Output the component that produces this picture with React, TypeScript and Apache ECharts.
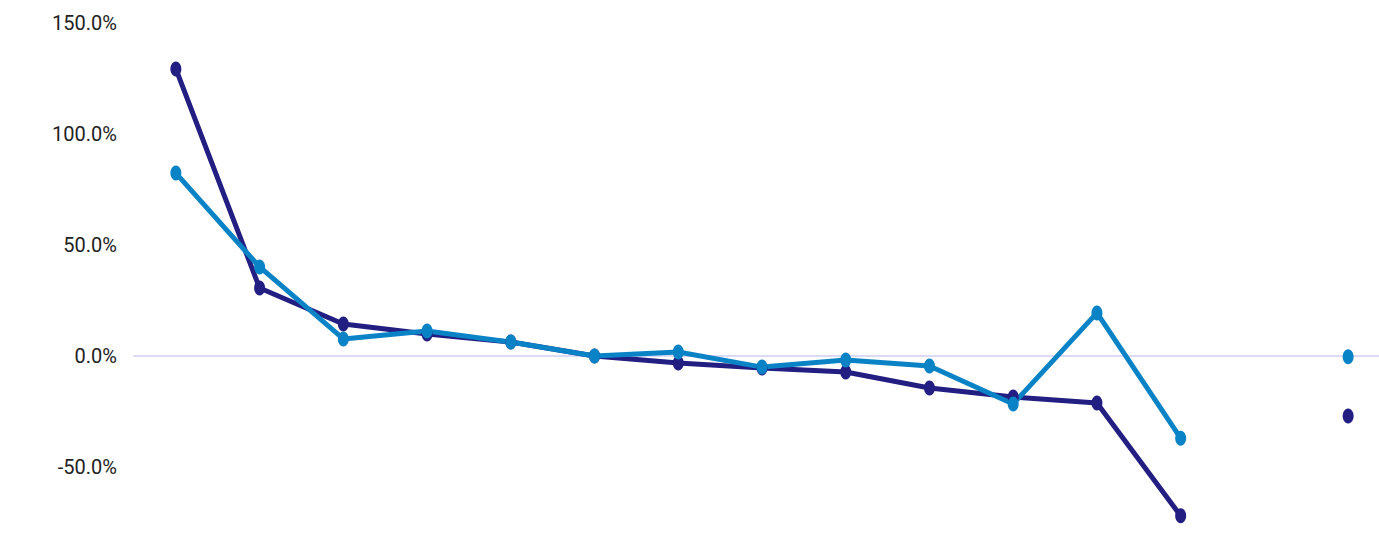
import React, { useEffect, useRef } from "react";
import * as echarts from "echarts";

const categories = ["1", "2", "3", "4", "5", "6", "7", "8", "9", "10", "11", "12", "13", "14", "15"];
const seriesNavy: (number | null)[] = [129.3, 30.6, 14.4, 9.9, 6.3, 0, -3.2, -5.4, -7.2, -14.4, -18.5, -21.2, -72, null, -27];
const seriesBlue: (number | null)[] = [82.4, 40.1, 7.7, 11.3, 6.3, 0, 1.8, -5, -1.8, -4.5, -21.6, 19.4, -37, null, -0.3];
const yLabelValues = [150, 100, 50, 0, -50];

export default function App() {
  const ref = useRef<HTMLDivElement>(null);
  useEffect(() => {
    document.body.style.margin = "0";
    if (!ref.current) return;
    const chart = echarts.init(ref.current, undefined, { renderer: "svg" });
    const mk = (name: string, data: (number | null)[], color: string) => ({
      name,
      type: "line",
      data,
      symbol: "circle",
      symbolSize: [11, 15],
      showSymbol: true,
      connectNulls: false,
      lineStyle: { color, width: 5 },
      itemStyle: { color },
    });
    chart.setOption({
      animation: false,
      grid: { left: 134, width: 1256, top: 23, bottom: 35.5, outerBoundsMode: "none" },
      xAxis: {
        type: "category",
        data: categories,
        boundaryGap: true,
        axisLine: { show: true, onZero: true, lineStyle: { color: "#dcdaf5", width: 2 } },
        axisTick: { show: false },
        axisLabel: { show: false },
        splitLine: { show: false },
      },
      yAxis: {
        type: "value",
        min: -75,
        max: 150,
        interval: 25,
        axisLine: { show: false },
        axisTick: { show: false },
        splitLine: { show: false },
        axisLabel: {
          margin: 17,
          color: "#222",
          fontSize: 20,
          fontFamily: "Roboto, sans-serif",
          formatter: (v: number) => (yLabelValues.includes(v) ? v.toFixed(1) + "%" : ""),
        },
      },
      series: [mk("Series A", seriesNavy, "#221e82"), mk("Series B", seriesBlue, "#0a83c6")],
    });
    return () => chart.dispose();
  }, []);
  return (
    <div style={{ width: 1379, height: 558, overflow: "hidden" }}>
      <div ref={ref} style={{ width: 1400, height: 558 }} />
    </div>
  );
}
